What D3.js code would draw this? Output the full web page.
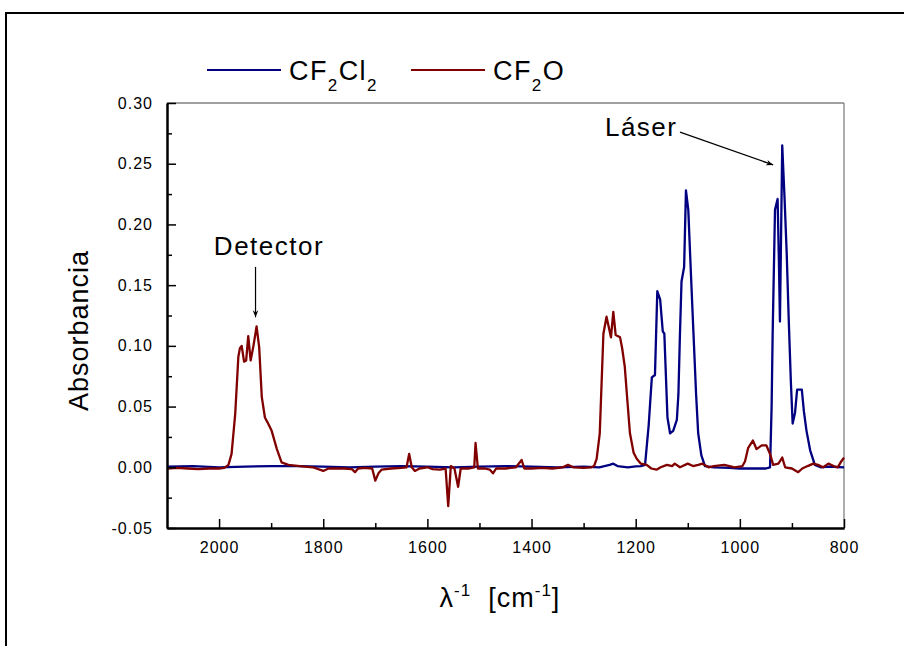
<!DOCTYPE html>
<html>
<head>
<meta charset="utf-8">
<script src="https://cdn.jsdelivr.net/npm/d3@7"></script>
<style>
  html, body { margin: 0; padding: 0; background: #fff; }
  svg { display: block; font-family: "Liberation Sans", Arial, sans-serif; }
</style>
</head>
<body>
<svg id="chart" width="904" height="646"></svg>
<script>
// ---- data ----
const seriesNames = ["CF2Cl2", "CF2O"];
const seriesColors = ["#000080", "#800000"];

const cf2cl2Wn = [2100,2050,2000,1950,1900,1850,1800,1750,1700,1650,1600,1550,1500,1450,1400,1350,1300,1270,1250,1243,1235,1215,1200,1190,1182,1175,1169,1163,1158.5,1153,1148,1145,1139,1134,1128,1121,1118,1115,1112,1107,1103.5,1099,1094,1089,1084,1080,1074,1067,1050,1020,1000,970,950,942,939,937,932.5,927.5,925,923,918.6,914,910,906,902,898.6,894,890,881,877,872,865,856,845,830,800];
const cf2cl2Abs = [0.0005,0.001,0.0,0.0005,0.001,0.001,0.0005,0.0,0.0005,0.001,0.0005,0.0,0.0005,0.001,0.0005,0.0,0.0005,0.0,0.002,0.003,0.001,0.0,0.0008,0.001,0.002,0.035,0.074,0.076,0.145,0.138,0.112,0.110,0.041,0.028,0.030,0.039,0.060,0.110,0.153,0.165,0.228,0.212,0.160,0.110,0.060,0.028,0.010,0.001,0.0,-0.0005,-0.001,-0.001,-0.001,0.0,0.05,0.110,0.212,0.221,0.170,0.120,0.265,0.22,0.176,0.12,0.07,0.036,0.045,0.064,0.064,0.046,0.030,0.014,0.002,0.0,0.0005,0.0];

const cf2oWn = [2100,2080,2060,2040,2020,2000,1990,1982,1976,1969,1963,1960,1956.6,1952,1948,1944,1939.4,1934,1928,1923,1918,1912,1907,1899,1889,1880,1867,1845,1820,1800,1790,1760,1745,1739,1733,1720,1706,1700,1694,1688,1670,1650,1640,1635,1630,1624,1615,1600,1590,1576,1565,1560,1555,1548,1541,1536,1520,1510,1507.5,1503,1490,1480,1474,1468,1450,1430,1419,1414,1400,1380,1360,1340,1330,1320,1300,1285,1280,1275,1269,1262,1256,1247.5,1243,1238.5,1230,1226,1221,1216,1211,1204,1198,1190,1179,1170,1160,1152,1140,1130,1125,1115,1100,1090,1080,1072,1060,1050,1030,1010,995,990,984,975,968,958,949,942,936,926,918.6,913,900,888,880,870,859,850,840,830,820,812,805,800];
const cf2oAbs = [-0.001,-0.0005,-0.001,-0.0015,-0.001,-0.001,-0.0005,0.002,0.011,0.044,0.091,0.098,0.100,0.087,0.088,0.108,0.088,0.100,0.116,0.099,0.058,0.041,0.037,0.030,0.015,0.004,0.002,0.001,0.0,-0.003,-0.001,-0.001,-0.0015,-0.004,-0.001,-0.0005,-0.001,-0.011,-0.005,-0.002,-0.001,-0.0005,0.0,0.011,0.0,-0.003,-0.001,0.0,-0.0015,-0.002,-0.001,-0.032,0.001,-0.001,-0.016,-0.001,-0.001,0.0,0.020,-0.001,-0.001,-0.002,-0.005,-0.001,-0.001,0.0,0.006,-0.001,-0.001,-0.0005,-0.001,0.0,0.002,0.0,-0.0005,0.0,0.001,0.007,0.028,0.110,0.124,0.107,0.128,0.109,0.107,0.098,0.083,0.055,0.028,0.012,0.007,0.003,0.002,-0.001,-0.002,0.0,0.002,0.001,0.003,0.0,0.003,0.001,0.002,0.003,0.0,0.001,0.002,0.0,0.001,0.005,0.016,0.022,0.015,0.018,0.018,0.011,0.002,0.003,0.008,0.0,-0.001,-0.004,-0.001,0.001,0.003,0.002,0.0,0.003,0.001,0.0,0.005,0.008];

const xDomain = [2100, 800];
const yDomain = [-0.05, 0.30];
const xMajorTicks = [2000, 1800, 1600, 1400, 1200, 1000, 800];
const xMinorTicks = [1900, 1700, 1500, 1300, 1100, 900];
const yMajorTicks = [-0.05, 0.00, 0.05, 0.10, 0.15, 0.20, 0.25, 0.30];
const yMinorTicks = [-0.025, 0.025, 0.075, 0.125, 0.175, 0.225, 0.275];

// annotations in data units
const detectorLabel = {text: "Detector", wn: 2010, abs: 0.1745};
const detectorArrow = {wn: 1930, from: 0.165, to: 0.1235};
const laserLabel = {text: "Láser", wn: 1259, abs: 0.2727};
const laserArrow = {wn1: 1115, abs1: 0.276, wn2: 936, abs2: 0.249};

// ---- layout ----
const svg = d3.select("#chart");
const plot = {left: 167, right: 844, top: 103, bottom: 528};

const x = d3.scaleLinear().domain(xDomain).range([plot.left, plot.right]);
const y = d3.scaleLinear().domain(yDomain).range([plot.bottom, plot.top]);

// outer frame (cropped)
svg.append("rect").attr("x", 6).attr("y", 13).attr("width", 1000).attr("height", 1000)
  .attr("fill", "none").attr("stroke", "#000").attr("stroke-width", 2);

// arrowhead marker
const defs = svg.append("defs");
defs.append("marker").attr("id", "arrow").attr("viewBox", "0 0 10 10")
  .attr("refX", 10).attr("refY", 5).attr("markerWidth", 9).attr("markerHeight", 7)
  .attr("markerUnits", "userSpaceOnUse").attr("orient", "auto")
  .append("path").attr("d", "M0,1 L10,5 L0,9 L3,5 Z").attr("fill", "#000");

// top & right frame lines (grey)
svg.append("line").attr("x1", plot.left).attr("x2", plot.right).attr("y1", plot.top).attr("y2", plot.top)
  .attr("stroke", "#808080").attr("stroke-width", 1.3);
svg.append("line").attr("x1", plot.right).attr("x2", plot.right).attr("y1", plot.top).attr("y2", plot.bottom)
  .attr("stroke", "#808080").attr("stroke-width", 1.3);

// clip
defs.append("clipPath").attr("id", "clip").append("rect")
  .attr("x", plot.left - 2).attr("y", plot.top).attr("width", plot.right - plot.left + 4).attr("height", plot.bottom - plot.top);

// series
const line = d3.line().x(d => x(d[0])).y(d => y(d[1]));
const series = [
  d3.zip(cf2cl2Wn, cf2cl2Abs),
  d3.zip(cf2oWn, cf2oAbs)
];
series.forEach((s, i) => {
  svg.append("path").datum(s).attr("d", line).attr("fill", "none")
    .attr("stroke", seriesColors[i]).attr("stroke-width", 2.3).attr("stroke-linejoin", "round")
    .attr("clip-path", "url(#clip)");
});

// axes
const fmtY = d => d.toFixed(2);
const yAxis = d3.axisLeft(y).tickValues(yMajorTicks).tickFormat(fmtY)
  .tickSizeInner(-9).tickSizeOuter(0).tickPadding(14);
const yG = svg.append("g").attr("transform", `translate(${plot.left},0)`).call(yAxis);
const yMinor = d3.axisLeft(y).tickValues(yMinorTicks).tickFormat("").tickSizeInner(-5).tickSizeOuter(0);
const yG2 = svg.append("g").attr("transform", `translate(${plot.left},0)`).call(yMinor);

const xAxis = d3.axisBottom(x).tickValues(xMajorTicks).tickFormat(d3.format("d"))
  .tickSizeInner(-9).tickSizeOuter(0).tickPadding(14);
const xG = svg.append("g").attr("transform", `translate(0,${plot.bottom})`).call(xAxis);
const xMinor = d3.axisBottom(x).tickValues(xMinorTicks).tickFormat("").tickSizeInner(-5).tickSizeOuter(0);
const xG2 = svg.append("g").attr("transform", `translate(0,${plot.bottom})`).call(xMinor);

[yG, yG2, xG, xG2].forEach(g => {
  g.select(".domain").attr("stroke", "#000").attr("stroke-width", 2);
  g.selectAll(".tick line").attr("stroke", "#000").attr("stroke-width", 1.5);
  g.selectAll(".tick text").attr("fill", "#000").attr("font-size", 16)
    .attr("font-family", "'Liberation Sans', Arial, sans-serif").attr("letter-spacing", 1);
});

// legend
const legend = svg.append("g");
const legendItems = [
  {x1: 207, x2: 281, tx: 289, parts: [["CF", 0], ["2", 11], ["Cl", -11], ["2", 11]]},
  {x1: 411, x2: 485, tx: 493, parts: [["CF", 0], ["2", 11], ["O", -11]]}
];
legendItems.forEach((it, i) => {
  legend.append("line").attr("x1", it.x1).attr("x2", it.x2).attr("y1", 70).attr("y2", 70)
    .attr("stroke", seriesColors[i]).attr("stroke-width", 2);
  const t = legend.append("text").attr("x", it.tx).attr("y", 80).attr("font-size", 27)
    .attr("letter-spacing", 1.4).attr("fill", "#000");
  it.parts.forEach(([s, dy]) => {
    t.append("tspan").text(s).attr("font-size", dy > 0 ? 17 : 27).attr("dy", dy);
  });
});

// y axis title
svg.append("text").attr("transform", `translate(88,${(plot.top + plot.bottom) / 2 + 15}) rotate(-90)`)
  .attr("text-anchor", "middle").attr("font-size", 27).attr("letter-spacing", 1)
  .attr("fill", "#000").text("Absorbancia");

// x axis title
const xt = svg.append("text").attr("x", 500).attr("y", 607).attr("text-anchor", "middle")
  .attr("font-size", 27).attr("letter-spacing", 1).attr("fill", "#000");
xt.append("tspan").text("λ");
xt.append("tspan").text("-1").attr("font-size", 17).attr("dy", -11);
xt.append("tspan").text("\u00a0\u00a0[cm").attr("dy", 11);
xt.append("tspan").text("-1").attr("font-size", 17).attr("dy", -11);
xt.append("tspan").text("]").attr("dy", 11);

// annotations
svg.append("text").attr("x", x(detectorLabel.wn)).attr("y", y(detectorLabel.abs))
  .attr("font-size", 26).attr("letter-spacing", 1.5).attr("fill", "#000").text(detectorLabel.text);
svg.append("line").attr("x1", x(detectorArrow.wn)).attr("x2", x(detectorArrow.wn))
  .attr("y1", y(detectorArrow.from)).attr("y2", y(detectorArrow.to))
  .attr("stroke", "#000").attr("stroke-width", 1.2).attr("marker-end", "url(#arrow)");

svg.append("text").attr("x", x(laserLabel.wn)).attr("y", y(laserLabel.abs))
  .attr("font-size", 26).attr("letter-spacing", 1.5).attr("fill", "#000").text(laserLabel.text);
svg.append("line").attr("x1", x(laserArrow.wn1)).attr("y1", y(laserArrow.abs1))
  .attr("x2", x(laserArrow.wn2)).attr("y2", y(laserArrow.abs2))
  .attr("stroke", "#000").attr("stroke-width", 1.2).attr("marker-end", "url(#arrow)");
</script>
</body>
</html>
